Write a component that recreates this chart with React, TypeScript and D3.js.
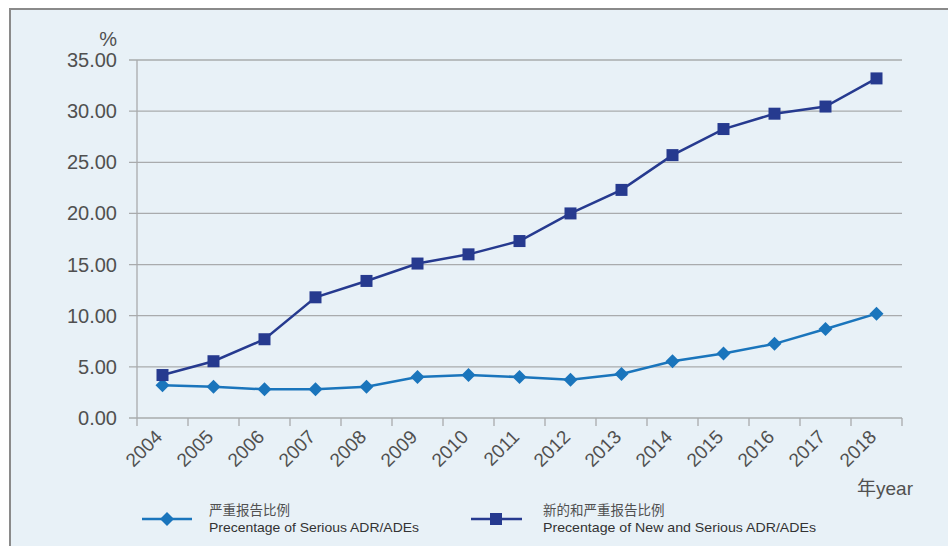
import React from "react";
import * as d3 from "d3";

const years = ["2004","2005","2006","2007","2008","2009","2010","2011","2012","2013","2014","2015","2016","2017","2018"];
const seriousPct = [3.2, 3.05, 2.8, 2.8, 3.05, 4.0, 4.2, 4.0, 3.75, 4.3, 5.55, 6.3, 7.25, 8.7, 10.2];
const newSeriousPct = [4.2, 5.55, 7.7, 11.8, 13.4, 15.1, 16.0, 17.3, 20.0, 22.3, 25.7, 28.25, 29.75, 30.45, 33.2];
const yTicks = [0, 5, 10, 15, 20, 25, 30, 35];
const legendCn = ["严重报告比例", "新的和严重报告比例"];
const legendEn = ["Precentage of Serious ADR/ADEs", "Precentage of New and Serious ADR/ADEs"];

const W = 948, H = 546;
const left = 137, right = 902, top = 60, bottom = 418;
const C1 = "#1a75bc";
const C2 = "#263a8f";
const GRID = "#a9abad";
const TXT = "#505050";
const FONT = "'Liberation Sans', Arial, sans-serif";
const CJK = "'Noto Sans CJK SC', sans-serif";

export default function App() {
  const x = d3.scaleBand<string>().domain(years).range([left, right]).padding(0);
  const y = d3.scaleLinear().domain([0, 35]).range([bottom, top]);
  const cx = (d: string) => (x(d) as number) + x.bandwidth() / 2;
  const line = d3.line<number>().x((_, i) => cx(years[i])).y((v) => y(v));
  const diamond = (px: number, py: number, r: number) =>
    `M${px},${py - r}L${px + r},${py}L${px},${py + r}L${px - r},${py}Z`;

  return (
    <svg width={W} height={H} style={{ position: "absolute", left: 0, top: 0 }} xmlns="http://www.w3.org/2000/svg">
      <rect x={0} y={0} width={W} height={H} fill="#ffffff" />
      <rect x={10} y={9} width={W + 10} height={H + 10} fill="#e8f1f7" stroke="#8a8a8a" strokeWidth={2} />

      {/* grid lines and y ticks */}
      {yTicks.map((t) => (
        <g key={t}>
          <line x1={left - 8} x2={right} y1={y(t)} y2={y(t)} stroke={GRID} strokeWidth={1.3} />
          <text x={117} y={y(t) + 7} textAnchor="end" fontFamily={FONT} fontSize={20} fill={TXT}>
            {t.toFixed(2)}
          </text>
        </g>
      ))}
      <line x1={left} x2={left} y1={top} y2={bottom} stroke={GRID} strokeWidth={1.3} />
      {/* x ticks */}
      {years.concat(["end"]).map((d, i) => {
        const px = left + i * x.bandwidth();
        return <line key={d} x1={px} x2={px} y1={bottom} y2={bottom + 8} stroke={GRID} strokeWidth={1.3} />;
      })}
      {years.map((d) => (
        <text
          key={d}
          transform={`translate(${cx(d) + 1},${bottom + 20}) rotate(-45)`}
          textAnchor="end"
          fontFamily={FONT}
          fontSize={19}
          fill={TXT}
        >
          {d}
        </text>
      ))}
      <text x={117} y={46} textAnchor="end" fontFamily={FONT} fontSize={20} fill={TXT}>%</text>
      <text x={857} y={495} fontFamily={FONT} fontSize={19} fill={TXT}>
        <tspan fontFamily={CJK}>年</tspan>year
      </text>

      {/* series */}
      <path d={line(seriousPct) || ""} fill="none" stroke={C1} strokeWidth={2.5} />
      {seriousPct.map((v, i) => (
        <path key={i} d={diamond(cx(years[i]), y(v), 7)} fill={C1} />
      ))}
      <path d={line(newSeriousPct) || ""} fill="none" stroke={C2} strokeWidth={2.5} />
      {newSeriousPct.map((v, i) => (
        <rect key={i} x={cx(years[i]) - 6} y={y(v) - 6} width={12} height={12} fill={C2} />
      ))}

      {/* legend */}
      <line x1={142} x2={192} y1={519} y2={519} stroke={C1} strokeWidth={2.5} />
      <path d={diamond(167, 519, 7)} fill={C1} />
      <text x={209} y={515} fontFamily={CJK} fontSize={13.5} fill={TXT}>{legendCn[0]}</text>
      <text x={209} y={532} fontFamily={FONT} fontSize={13} fill="#333" textLength={210} lengthAdjust="spacingAndGlyphs">{legendEn[0]}</text>

      <line x1={471} x2={522} y1={519} y2={519} stroke={C2} strokeWidth={2.5} />
      <rect x={490} y={513} width={12} height={12} fill={C2} />
      <text x={543} y={515} fontFamily={CJK} fontSize={13.5} fill={TXT}>{legendCn[1]}</text>
      <text x={543} y={532} fontFamily={FONT} fontSize={13} fill="#333" textLength={273} lengthAdjust="spacingAndGlyphs">{legendEn[1]}</text>
    </svg>
  );
}
